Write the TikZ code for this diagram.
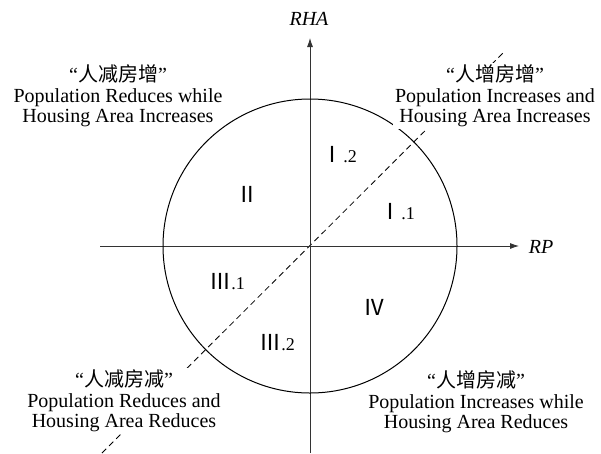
\documentclass[tikz,border=0pt]{standalone}
\usepackage{fontspec}
\setmainfont{Liberation Serif}
\newfontfamily\cjk{Noto Sans CJK SC}
\usetikzlibrary{arrows.meta}

\newcommand{\rnum}[1]{{\cjk\fontsize{22}{22}\selectfont #1}}

\begin{document}
\begin{tikzpicture}[x=1pt, y=-1pt, line width=0.8pt, >={Latex[length=9pt,width=6pt]},
    axis/.style={draw=black!80, ->},
    quad/.style={font=\fontsize{18}{18}\selectfont, inner sep=1pt},
    zone/.style={align=center, inner sep=2pt, font=\fontsize{20}{20.5}\selectfont},
    axlabel/.style={font=\fontsize{20}{20}\selectfont\itshape}]

    \useasboundingbox (0,0) rectangle (601,453);

    % ==========================================
    % 1. Assi RP / RHA e linea tratteggiata
    % ==========================================
    \coordinate (O)  at (310,246);
    \coordinate (xL) at (100,246);
    \coordinate (xR) at (519,246);
    \coordinate (yB) at (310,453);
    \coordinate (yT) at (310,38);
    \coordinate (dA) at (102,453);
    \coordinate (dB) at (503,53);

    \draw[dash pattern=on 6pt off 4pt] (dA) -- (dB);
    \draw[axis] (xL) -- (xR);
    \draw[axis] (yB) -- (yT);
    \draw[line width=1pt] (O) circle[radius=147];

    \node[axlabel] (rha) at (309,19) {RHA};
    \node[axlabel] (rp)  at (541,247) {RP};

    % ==========================================
    % 2. Etichette dei quadranti
    % ==========================================
    \foreach \nm/\x/\y/\txt in {
        q12/339/155/{\rnum{Ⅰ}.2},
        q11/397/212/{\rnum{Ⅰ}.1},
        q2/247/194/{\rnum{Ⅱ}},
        q31/227/282/{\rnum{Ⅲ}.1},
        q32/277/343/{\rnum{Ⅲ}.2},
        q4/374/307/{\rnum{Ⅳ}}
    }{
        \node[quad] (\nm) at (\x,\y) {\txt};
    }

    % ==========================================
    % 3. Descrizioni delle quattro zone
    % ==========================================
    % quelle attraversate dal tratteggio hanno lo sfondo bianco
    \node[zone] (tl) at (118,96) {``{\cjk 人减房增}''\\Population Reduces while\\Housing Area Increases};
    \node[zone, fill=white] (tr) at (495,96) {``{\cjk 人增房增}''\\Population Increases and\\Housing Area Increases};
    \node[zone, fill=white] (bl) at (124,401) {``{\cjk 人减房减}''\\Population Reduces and\\Housing Area Reduces};
    \node[zone] (br) at (476,402) {``{\cjk 人增房减}''\\Population Increases while\\Housing Area Reduces};

\end{tikzpicture}
\end{document}
